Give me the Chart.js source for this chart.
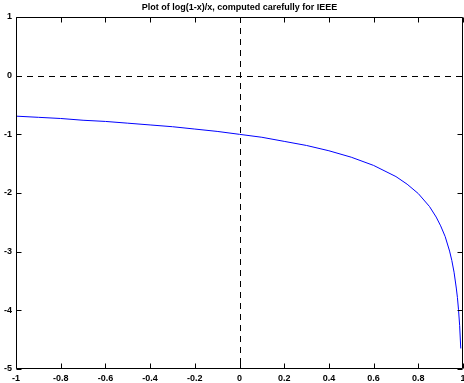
<!DOCTYPE html>
<html>
<head>
<meta charset="utf-8">
<script src="https://cdn.jsdelivr.net/npm/chart.js@4"></script>
<style>
  html, body { margin: 0; padding: 0; background: #fff; }
  #wrap { width: 464px; height: 383px; }
</style>
</head>
<body>
<div id="wrap"><canvas id="plot" width="464" height="383"></canvas></div>
<script>
// values
let xValues = [-1, -0.9, -0.8, -0.7, -0.6, -0.5, -0.4, -0.3, -0.2, -0.1, 0,
    0.1, 0.2, 0.3, 0.4, 0.5, 0.6, 0.7, 0.75, 0.8, 0.85, 0.88, 0.9, 0.92, 0.94,
    0.95, 0.96, 0.97, 0.975, 0.98, 0.985, 0.99];
let yValues = [-0.69, -0.71, -0.73, -0.76, -0.78, -0.81, -0.84, -0.87, -0.91, -0.95, -1.0,
    -1.05, -1.12, -1.19, -1.28, -1.39, -1.53, -1.72, -1.85, -2.01, -2.23, -2.41, -2.56, -2.74, -2.99,
    -3.15, -3.35, -3.62, -3.78, -3.99, -4.26, -4.65];
let xTicks = [-1, -0.8, -0.6, -0.4, -0.2, 0, 0.2, 0.4, 0.6, 0.8, 1];
let yTicks = [1, 0, -1, -2, -3, -4, -5];
let titleText = "Plot of log(1-x)/x, computed carefully for IEEE";

let points = xValues.map((x, i) => ({ x: x, y: yValues[i] }));
let labelFont = { family: "Liberation Sans, Arial, sans-serif", size: 9, weight: "bold" };

// box, inward ticks, dashed zero lines, title
let framePlugin = {
    id: "frame",
    beforeDatasetsDraw(chart) {
        let ctx = chart.ctx;
        let a = chart.chartArea;
        let sx = chart.scales.x, sy = chart.scales.y;
        ctx.save();
        ctx.strokeStyle = "#000";
        ctx.lineWidth = 1;
        ctx.setLineDash([6, 5]);
        let zx = Math.round(sx.getPixelForValue(0)) + 0.5;
        let zy = Math.round(sy.getPixelForValue(0)) + 0.5;
        ctx.beginPath();
        ctx.moveTo(zx, a.top); ctx.lineTo(zx, a.bottom);
        ctx.moveTo(a.left, zy); ctx.lineTo(a.right, zy);
        ctx.stroke();
        ctx.restore();
    },
    afterDraw(chart) {
        let ctx = chart.ctx;
        let a = chart.chartArea;
        let sx = chart.scales.x, sy = chart.scales.y;
        let L = Math.round(a.left) + 0.5, R = Math.round(a.right) - 0.5;
        let T = Math.round(a.top) + 0.5, B = Math.round(a.bottom) - 0.5;
        ctx.save();
        ctx.strokeStyle = "#000";
        ctx.lineWidth = 1;
        ctx.beginPath();
        ctx.rect(L, T, R - L, B - T);
        xTicks.forEach(v => {
            let px = Math.round(sx.getPixelForValue(v)) + 0.5;
            ctx.moveTo(px, B); ctx.lineTo(px, B - 5);
            ctx.moveTo(px, T); ctx.lineTo(px, T + 5);
        });
        yTicks.forEach(v => {
            let py = Math.round(sy.getPixelForValue(v)) + 0.5;
            ctx.moveTo(L, py); ctx.lineTo(L + 5, py);
            ctx.moveTo(R, py); ctx.lineTo(R - 5, py);
        });
        ctx.stroke();
        ctx.fillStyle = "#000";
        ctx.font = "bold 9px " + labelFont.family;
        ctx.textAlign = "center";
        ctx.textBaseline = "middle";
        ctx.fillText(titleText, (a.left + a.right) / 2, 8);
        ctx.restore();
    }
};

new Chart(document.getElementById("plot"), {
    type: "scatter",
    data: {
        datasets: [{
            data: points,
            showLine: true,
            borderColor: "#0000ff",
            borderWidth: 1,
            pointRadius: 0,
            tension: 0,
            fill: false
        }]
    },
    options: {
        responsive: false,
        animation: false,
        devicePixelRatio: 1,
        layout: { padding: { top: 17, right: 1, left: 0, bottom: 0 } },
        plugins: { legend: { display: false }, tooltip: { enabled: false } },
        scales: {
            x: {
                type: "linear", min: -1, max: 1,
                afterBuildTicks(scale) { scale.ticks = xTicks.map(v => ({ value: v })); },
                afterFit(scale) {
                    scale.height = 14;
                    scale.paddingLeft = 0;
                    scale.paddingRight = 0;
                },
                grid: { display: false, drawTicks: false },
                border: { display: false },
                ticks: { color: "#000", font: labelFont, padding: 4, maxRotation: 0, autoSkip: false,
                    callback: v => String(v) }
            },
            y: {
                type: "linear", min: -5, max: 1,
                afterBuildTicks(scale) { scale.ticks = yTicks.map(v => ({ value: v })); },
                afterFit(scale) {
                    scale.width = 16;
                    scale.paddingTop = 0;
                    scale.paddingBottom = 0;
                },
                grid: { display: false, drawTicks: false },
                border: { display: false },
                ticks: { color: "#000", font: labelFont, padding: 4, autoSkip: false,
                    callback: v => String(v) }
            }
        }
    },
    plugins: [framePlugin]
});
</script>
</body>
</html>
